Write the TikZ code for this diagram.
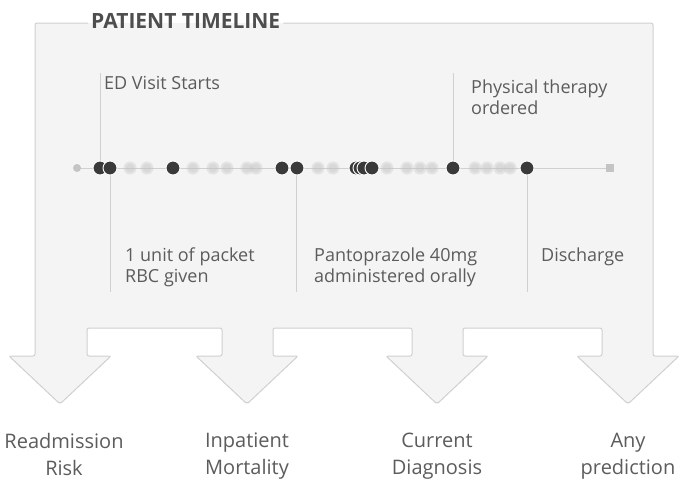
\documentclass[tikz,border=0pt]{standalone}
\usepackage{fontspec}
\setmainfont{Open Sans}
\definecolor{boxfill}{HTML}{F4F4F4}
\definecolor{boxline}{HTML}{D0D0D0}
\definecolor{dotdark}{HTML}{3A3A3A}
\definecolor{dotlight}{HTML}{C4C4C4}
\definecolor{txtgray}{HTML}{5C5C5C}
\begin{document}
\begin{tikzpicture}[x=1pt,y=-1pt,
  evt/.style={circle,fill=dotdark,draw=white,line width=0.9pt,inner sep=0pt,minimum size=14pt},
  fuzz/.style={circle,fill=dotlight,inner sep=0pt,minimum size=13pt,opacity=.35,
    path picture={\fill[dotlight] (path picture bounding box.center) circle (4.5pt);}},
  tick/.style={boxline,line width=0.8pt},
  lbl/.style={text=txtgray,font=\fontsize{18}{21}\selectfont,align=left,inner sep=0pt,anchor=north west},
  outcome/.style={text=txtgray,font=\fontsize{20}{27}\selectfont,align=center,inner sep=0pt,anchor=north}]
\useasboundingbox[fill=white](0,0) rectangle (683,491);
\fill[boxfill](35,23)--(35,356)--(9,356)--(60,404)--(111,356)--(87,356)--(87,328)--(222,328)--(222,356)
--(196,356)--(247,404)--(298,356)--(273,356)--(273,328)--(412,328)--(412,356)--(386,356)--(437,404)
--(488,356)--(463,356)--(463,328)--(602,328)--(602,356)--(577,356)--(628,404)--(679,356)--(653,356)
--(653,23)--cycle;
\node[text=dotdark!90,font=\fontsize{21}{24}\selectfont\bfseries,anchor=west,inner sep=3pt] (title) at (88,21) {PATIENT TIMELINE};
\draw[boxline,line width=1pt,rounded corners=2pt](title.west|-0,23)--(35,23)--(35,356)--(9,356)--(60,404)--(111,356)--(87,356)
--(87,328)--(222,328)--(222,356)--(196,356)--(247,404)--(298,356)--(273,356)--(273,328)--(412,328)--(412,356)
--(386,356)--(437,404)--(488,356)--(463,356)--(463,328)--(602,328)--(602,356)--(577,356)--(628,404)--(679,356)
--(653,356)--(653,23)--(title.east|-0,23);
\coordinate (tstart) at (77,168);
\coordinate (tend) at (610,168);
\draw[tick](tstart)--(tend);
\fill[dotlight](tstart) circle (4);
\fill[dotlight]([xshift=-4pt,yshift=-4pt]tend) rectangle ([xshift=4pt,yshift=4pt]tend);
\foreach \x in {130,147,193,213,227,247,256,318,333,387,407,420,432,475,487,500,510}
  \node[fuzz] at (\x,168) {};
\coordinate (edtop) at (100,73);
\coordinate (rbcbot) at (110,292);
\coordinate (pantobot) at (296,292);
\coordinate (pttop) at (453,73);
\coordinate (dischbot) at (527,292);
\draw[tick](edtop)--(100,168)(rbcbot)--(110,168)(pantobot)--(296,168)(pttop)--(453,168)(dischbot)--(527,168);
\node[evt] (ed) at (100,168) {};
\node[evt] (rbc) at (110,168) {};
\node[evt] (ev3) at (173,168) {};
\node[evt] (ev4) at (282,168) {};
\node[evt] (panto) at (297,168) {};
\foreach \x/\n in {356/a,360/b,364/c,372/d}
  \node[evt] (grp\n) at (\x,168) {};
\node[evt] (pt) at (453,168) {};
\node[evt] (disch) at (527,168) {};
\node[lbl] (edlbl) at (104,76) {ED Visit Starts};
\node[lbl] (ptlbl) at (471,80) {Physical therapy\\ordered};
\node[lbl] (rbclbl) at (125,248) {1 unit of packet\\RBC given};
\node[lbl] (pantolbl) at (314,248) {Pantoprazole 40mg\\administered orally};
\node[lbl] (dischlbl) at (541,248) {Discharge};
\node[outcome] (readm) at (64,433) {Readmission\\Risk};
\node[outcome] (mort) at (247,433) {Inpatient\\Mortality};
\node[outcome] (diag) at (437,433) {Current\\Diagnosis};
\node[outcome] (anyp) at (628,433) {Any\\prediction};
\end{tikzpicture}
\end{document}
